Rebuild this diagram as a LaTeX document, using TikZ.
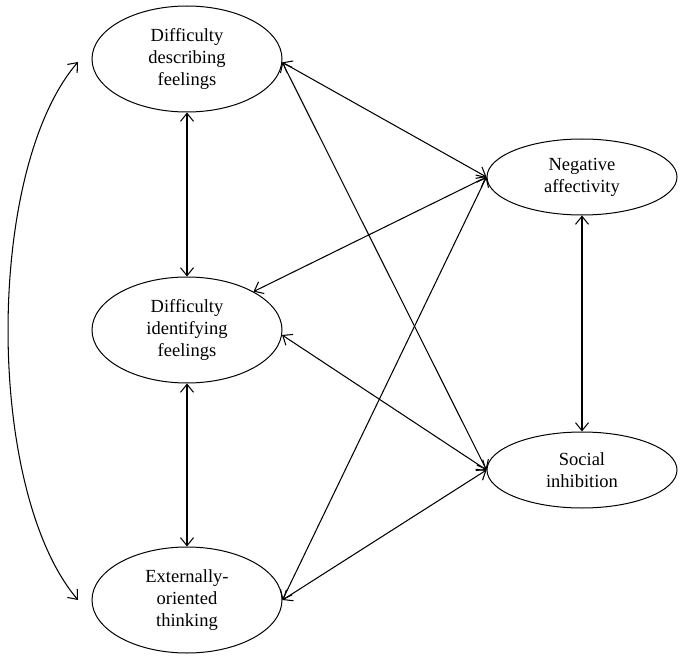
\documentclass[tikz,border=0pt]{standalone}
\usepackage{fontspec}
\setmainfont{Liberation Serif}
\usetikzlibrary{shapes.geometric,arrows.meta}
\begin{document}
\begin{tikzpicture}[x=1pt,y=-1pt,
  lat/.style={draw,ellipse,line width=1pt,inner sep=0pt,minimum width=190pt,minimum height=106pt,align=center,font=\fontsize{18.5}{22}\selectfont},
  latr/.style={lat,minimum height=76pt},
  conn/.style={line width=1.05pt,{Straight Barb[length=8pt,width=13pt,line width=1.05pt]}-{Straight Barb[length=8pt,width=13pt,line width=1.05pt]}}]
\useasboundingbox (0,0) rectangle (680,658);
\node[lat] (ddf) at (187,59) {Difficulty\\describing\\feelings};
\node[lat] (dif) at (187,330) {Difficulty\\identifying\\feelings};
\node[lat] (eot) at (187,600) {Externally-\\oriented\\thinking};
\node[latr] (na) at (582,177) {Negative\\affectivity};
\node[latr] (si) at (582,470) {Social\\inhibition};
\coordinate (c1) at (78,62);
\coordinate (c2) at (78,600);
\draw[conn] (c1) .. controls (-15,170) and (-15,490) .. (c2);
\draw[conn] (ddf) -- (dif);
\draw[conn] (dif) -- (eot);
\draw[conn] (na) -- (si);
\draw[conn] (ddf.-2) -- (na.west);
\draw[conn] (ddf.-2) -- (si.west);
\draw[conn] (dif.30) -- (na.west);
\draw[conn] (dif.-3) -- (si.west);
\draw[conn] (eot.east) -- (na.west);
\draw[conn] (eot.east) -- (si.west);
\end{tikzpicture}
\end{document}
